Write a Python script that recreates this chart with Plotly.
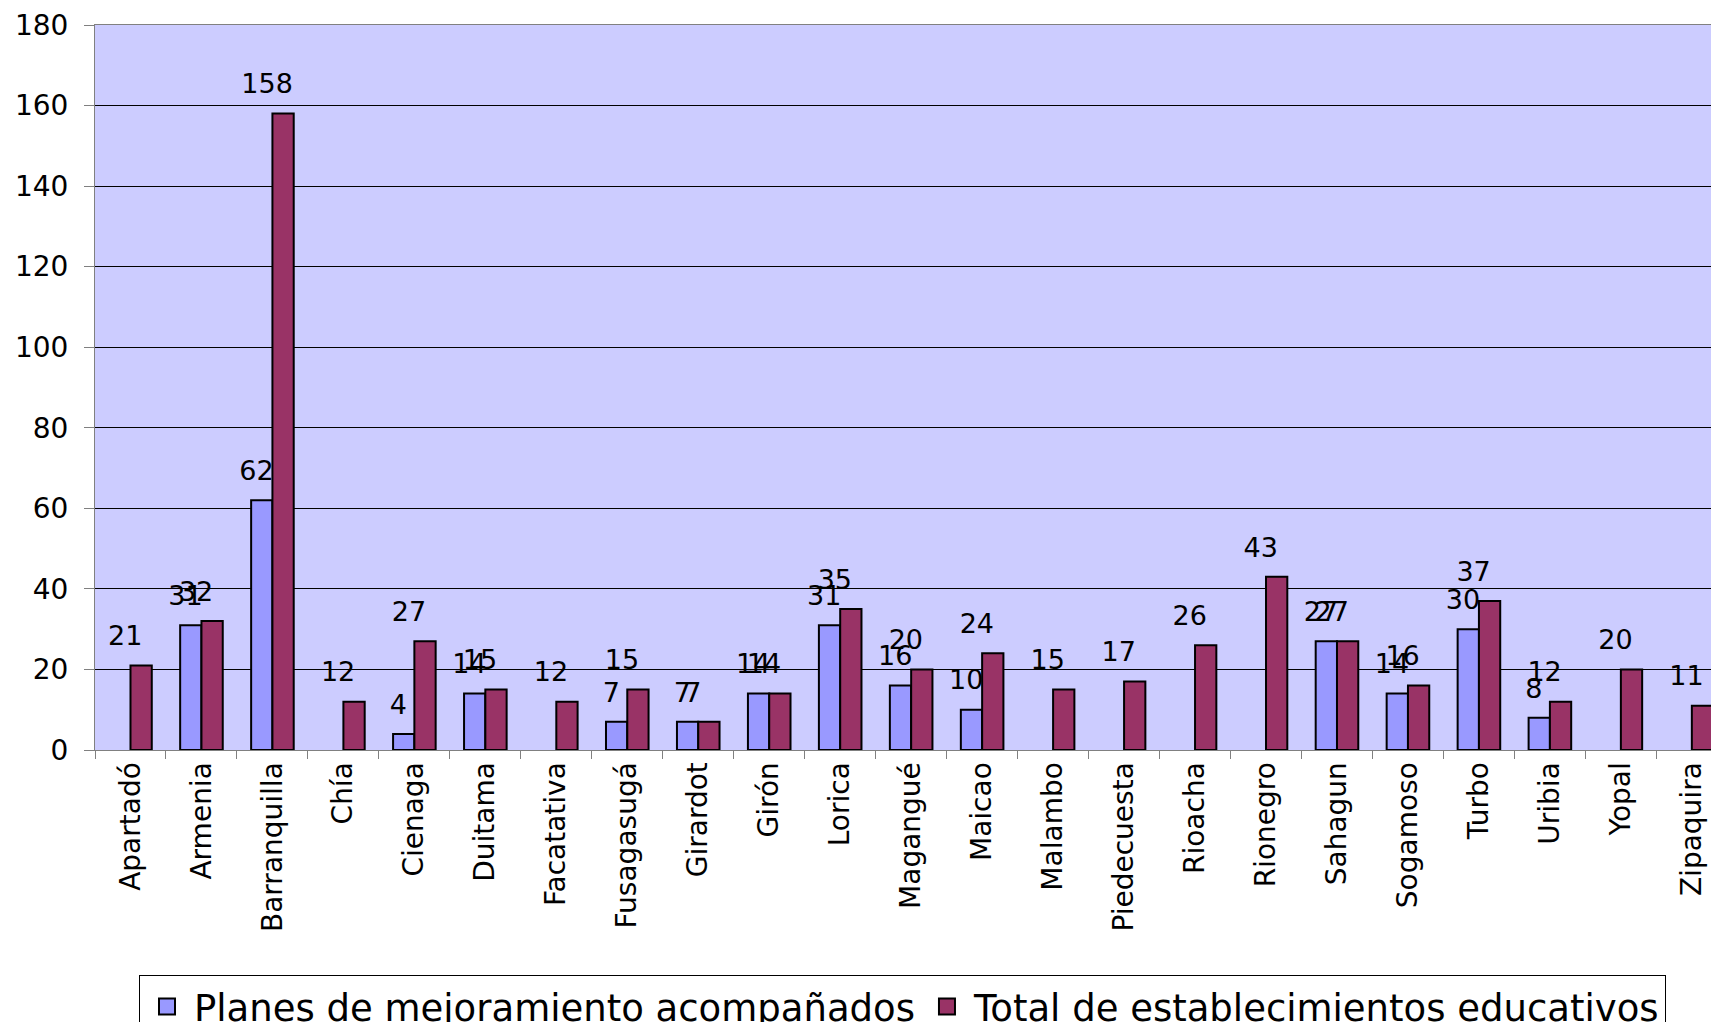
import plotly.graph_objects as go

# ---- data ----
cities = ["Apartadó", "Armenia", "Barranquilla", "Chía", "Cienaga", "Duitama",
          "Facatativa", "Fusagasugá", "Girardot", "Girón", "Lorica", "Magangué",
          "Maicao", "Malambo", "Piedecuesta", "Rioacha", "Rionegro", "Sahagun",
          "Sogamoso", "Turbo", "Uribia", "Yopal", "Zipaquira"]
planes = [0, 31, 62, 0, 4, 14, 0, 7, 7, 14, 31, 16, 10, 0, 0, 0, 0, 27, 14, 30, 8, 0, 0]
total = [21, 32, 158, 12, 27, 15, 12, 15, 7, 14, 35, 20, 24, 15, 17, 26, 43, 27, 16, 37, 12, 20, 11]
y_ticks = [0, 20, 40, 60, 80, 100, 120, 140, 160, 180]
series_names = ["Planes de mejoramiento acompañados", "Total de establecimientos educativos"]
series_colors = ["#9999FF", "#993366"]

series_values = [planes, total]

fig = go.Figure()

for name, vals, color in zip(series_names, series_values, series_colors):
    fig.add_trace(go.Bar(
        x=cities, y=[v if v else None for v in vals], name=name, showlegend=False,
        marker=dict(color=color, line=dict(color="black", width=2)),
    ))

# value labels (aligned with the grouped bars)
for name, vals in zip(series_names, series_values):
    fig.add_trace(go.Scatter(
        x=cities, y=vals, mode="markers+text", showlegend=False, hoverinfo="skip",
        text=[str(v) if v else "" for v in vals], textposition="top center",
        textfont=dict(size=27, color="black", family="DejaVu Sans"),
        marker=dict(size=20, opacity=0), cliponaxis=False,
    ))

# legend entries
for name, color in zip(series_names, series_colors):
    fig.add_trace(go.Scatter(
        x=[None], y=[None], mode="markers", name=name,
        marker=dict(symbol="square", size=16, color=color, line=dict(color="black", width=2)),
    ))

fig.update_layout(
    width=1711, height=1022,
    margin=dict(l=95, r=0, t=25, b=272, pad=0, autoexpand=False),
    paper_bgcolor="white", plot_bgcolor="#CCCCFF",
    barmode="group", bargap=0.4, bargroupgap=0,
    scattermode="group", scattergap=0.4,
    font=dict(family="DejaVu Sans", size=28, color="black"),
    legend=dict(orientation="h", xref="container", yref="container",
                x=139 / 1711, y=(1022 - 975) / 1022, xanchor="left", yanchor="top",
                bgcolor="white", bordercolor="black", borderwidth=1, itemwidth=44,
                font=dict(size=37, family="DejaVu Sans", color="black")),
    xaxis=dict(type="category", range=[-0.5, 22.27], tickangle=-90,
               ticks="outside", ticklen=8, tickcolor="#808080", tickson="boundaries",
               showline=True, linecolor="#808080", linewidth=1, mirror=True,
               showgrid=False, zeroline=False),
    yaxis=dict(range=[0, 180], tickvals=y_ticks, ticks="outside", ticklen=10,
               tickcolor="#808080", showline=True, linecolor="#808080", linewidth=1,
               showgrid=True, gridcolor="black", gridwidth=1, zeroline=False,
               ticklabelstandoff=10),
)

fig.write_html("out.html", config={"displayModeBar": False},
               post_script="document.body.style.margin='0';")
